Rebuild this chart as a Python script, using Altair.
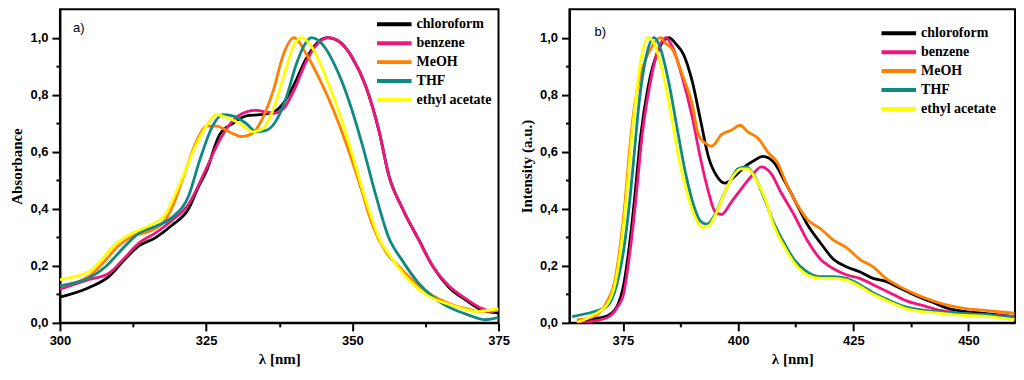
import altair as alt
import pandas as pd

solvents = ["chloroform", "benzene", "MeOH", "THF", "ethyl acetate"]
colors = ["#000000", "#F0157F", "#FF8000", "#0F8A82", "#FFFF00"]

# ---------- panel a) absorbance ----------
abs_chloroform_nm = [300.0, 305.0, 308.4, 310.7, 313.5, 316.3, 319.2, 322.0, 323.7, 325.0, 327.3, 329.6, 331.9, 334.2, 336.5, 338.2, 339.9, 342.2, 343.9, 345.8, 347.5, 350.0, 352.3, 354.6, 356.2, 358.6, 361.4, 363.7, 366.5, 369.4, 372.2, 375.0]
abs_chloroform_val = [0.09, 0.124, 0.163, 0.214, 0.27, 0.298, 0.343, 0.40, 0.478, 0.53, 0.66, 0.70, 0.726, 0.73, 0.74, 0.77, 0.83, 0.93, 0.98, 1.0, 0.99, 0.93, 0.83, 0.67, 0.52, 0.40, 0.29, 0.20, 0.125, 0.08, 0.045, 0.034]

abs_benzene_nm = [300.0, 305.0, 308.4, 310.7, 313.5, 316.3, 319.2, 322.0, 325.0, 327.3, 329.6, 331.9, 333.5, 336.5, 338.2, 339.9, 342.2, 343.9, 346.0, 347.5, 350.0, 352.3, 354.6, 356.2, 358.6, 361.4, 363.7, 366.5, 369.4, 372.2, 374.0, 375.0]
abs_benzene_val = [0.118, 0.152, 0.174, 0.22, 0.28, 0.315, 0.36, 0.416, 0.54, 0.64, 0.71, 0.74, 0.745, 0.735, 0.75, 0.81, 0.92, 0.975, 1.0, 0.99, 0.93, 0.83, 0.67, 0.52, 0.40, 0.29, 0.20, 0.13, 0.085, 0.05, 0.04, 0.05]

abs_meoh_nm = [300.0, 305.0, 307.8, 310.0, 312.4, 315.2, 318.0, 319.7, 320.9, 323.9, 325.0, 326.7, 329.5, 331.2, 332.9, 334.6, 336.5, 338.2, 340.0, 342.2, 344.5, 346.7, 349.0, 351.2, 353.5, 355.7, 358.0, 360.8, 363.7, 366.5, 369.4, 372.0, 375.0]
abs_meoh_val = [0.13, 0.164, 0.22, 0.27, 0.304, 0.32, 0.36, 0.43, 0.50, 0.66, 0.69, 0.69, 0.664, 0.653, 0.664, 0.715, 0.816, 0.94, 1.0, 0.94, 0.85, 0.75, 0.625, 0.49, 0.34, 0.25, 0.197, 0.14, 0.096, 0.068, 0.05, 0.04, 0.045]

abs_thf_nm = [300.0, 305.0, 307.8, 310.7, 313.5, 316.3, 319.2, 322.0, 323.9, 326.1, 327.8, 329.5, 331.8, 333.6, 335.3, 337.0, 338.7, 340.4, 341.8, 343.0, 345.0, 347.2, 349.4, 351.7, 353.9, 356.2, 358.5, 361.3, 364.2, 367.0, 369.8, 372.7, 375.0]
abs_thf_val = [0.13, 0.158, 0.197, 0.26, 0.315, 0.338, 0.37, 0.445, 0.57, 0.69, 0.73, 0.726, 0.70, 0.67, 0.675, 0.71, 0.79, 0.906, 0.974, 1.0, 0.974, 0.895, 0.78, 0.625, 0.456, 0.30, 0.22, 0.14, 0.084, 0.05, 0.028, 0.011, 0.019]

abs_ethyl_nm = [300.0, 305.0, 309.5, 312.4, 315.2, 318.0, 320.3, 323.3, 325.0, 326.7, 328.5, 330.7, 333.0, 334.6, 336.5, 338.2, 340.0, 341.3, 343.3, 345.5, 347.7, 350.0, 352.3, 354.5, 356.8, 359.6, 362.5, 365.3, 368.0, 371.0, 375.0]
abs_ethyl_val = [0.152, 0.18, 0.276, 0.315, 0.34, 0.38, 0.478, 0.625, 0.69, 0.73, 0.72, 0.70, 0.67, 0.68, 0.75, 0.86, 0.974, 1.0, 0.96, 0.86, 0.74, 0.59, 0.43, 0.30, 0.225, 0.152, 0.10, 0.073, 0.056, 0.04, 0.05]

# ---------- panel b) emission ----------
em_chloroform_nm = [365.0, 368.6, 372.0, 374.0, 375.0, 376.4, 377.5, 378.9, 380.5, 382.8, 385.0, 386.4, 388.2, 390.0, 391.8, 393.6, 395.4, 397.1, 399.3, 401.4, 403.6, 405.4, 407.9, 410.0, 412.1, 415.0, 417.9, 420.7, 423.6, 426.4, 429.3, 432.1, 435.0, 438.6, 442.1, 445.7, 449.3, 452.9, 456.4, 460.0]
em_chloroform_val = [0.0, 0.013, 0.028, 0.067, 0.12, 0.27, 0.43, 0.66, 0.83, 0.96, 1.0, 0.98, 0.94, 0.85, 0.715, 0.58, 0.514, 0.49, 0.514, 0.547, 0.57, 0.584, 0.56, 0.50, 0.436, 0.346, 0.28, 0.223, 0.196, 0.179, 0.156, 0.145, 0.123, 0.095, 0.073, 0.05, 0.039, 0.034, 0.028, 0.022]

em_benzene_nm = [365.0, 368.6, 372.0, 374.0, 375.1, 376.7, 377.8, 379.2, 380.8, 382.5, 384.3, 385.7, 387.9, 390.0, 391.8, 393.6, 395.0, 396.4, 398.6, 400.7, 402.9, 405.0, 407.1, 409.3, 412.1, 415.0, 417.9, 420.7, 423.6, 426.4, 429.3, 432.9, 436.4, 440.0, 443.6, 447.1, 450.7, 454.3, 460.0]
em_benzene_val = [0.0, 0.006, 0.022, 0.06, 0.098, 0.27, 0.43, 0.66, 0.83, 0.95, 1.0, 0.97, 0.86, 0.726, 0.58, 0.458, 0.39, 0.38, 0.425, 0.47, 0.514, 0.547, 0.525, 0.458, 0.38, 0.29, 0.223, 0.19, 0.168, 0.156, 0.134, 0.106, 0.078, 0.061, 0.045, 0.036, 0.031, 0.028, 0.022]

em_meoh_nm = [365.0, 368.6, 371.4, 373.4, 374.4, 375.5, 376.4, 377.6, 379.4, 381.0, 383.2, 384.3, 385.7, 387.9, 390.0, 391.4, 392.9, 394.3, 396.4, 398.6, 400.4, 402.1, 404.3, 406.4, 408.6, 410.7, 412.9, 415.0, 417.9, 420.7, 423.6, 426.4, 429.3, 432.1, 435.0, 438.6, 442.1, 445.7, 449.3, 452.9, 456.4, 460.0]
em_meoh_val = [0.01, 0.022, 0.07, 0.16, 0.27, 0.43, 0.6, 0.77, 0.9, 0.96, 1.0, 0.98, 0.96, 0.87, 0.77, 0.66, 0.63, 0.62, 0.66, 0.676, 0.693, 0.67, 0.648, 0.60, 0.56, 0.48, 0.413, 0.363, 0.33, 0.29, 0.263, 0.223, 0.196, 0.156, 0.128, 0.10, 0.078, 0.061, 0.05, 0.045, 0.039, 0.034]

em_thf_nm = [364.0, 368.6, 371.4, 373.6, 375.3, 376.5, 377.5, 378.5, 380.0, 381.8, 383.2, 385.0, 386.8, 388.6, 390.4, 391.8, 393.2, 395.0, 396.8, 398.6, 400.0, 401.8, 403.6, 405.7, 407.9, 410.0, 412.1, 415.0, 417.9, 420.7, 423.6, 426.4, 429.3, 432.9, 436.4, 440.0, 443.6, 447.1, 450.7, 454.3, 460.0]
em_thf_val = [0.022, 0.039, 0.056, 0.13, 0.27, 0.43, 0.6, 0.77, 0.93, 1.0, 0.96, 0.84, 0.68, 0.525, 0.41, 0.357, 0.346, 0.38, 0.447, 0.508, 0.54, 0.547, 0.514, 0.436, 0.346, 0.28, 0.223, 0.179, 0.162, 0.162, 0.156, 0.134, 0.106, 0.078, 0.056, 0.045, 0.039, 0.034, 0.031, 0.028, 0.017]

em_ethyl_nm = [365.0, 368.6, 371.6, 373.6, 374.6, 375.7, 376.6, 377.7, 378.9, 380.4, 381.8, 383.6, 385.4, 387.1, 388.9, 390.7, 392.1, 393.6, 395.4, 397.1, 398.9, 400.7, 402.1, 403.9, 406.1, 407.9, 410.0, 412.1, 415.0, 417.9, 420.7, 423.6, 426.4, 429.3, 432.9, 436.4, 440.0, 443.6, 447.1, 450.7, 454.3, 460.0]
em_ethyl_val = [0.0, 0.028, 0.065, 0.16, 0.27, 0.43, 0.6, 0.77, 0.92, 1.0, 0.98, 0.88, 0.737, 0.58, 0.458, 0.37, 0.335, 0.34, 0.39, 0.458, 0.514, 0.54, 0.54, 0.503, 0.425, 0.335, 0.268, 0.212, 0.168, 0.156, 0.156, 0.15, 0.128, 0.10, 0.073, 0.05, 0.039, 0.034, 0.028, 0.025, 0.022, 0.011]

y_ticks = [round(k / 10, 1) for k in range(0, 11)]
xa_ticks = [300 + 12.5 * k for k in range(0, 7)]
xb_ticks = [375 + 12.5 * k for k in range(0, 7)]


def long_df(pairs):
    rows = []
    for order, (name, xs, ys) in enumerate(pairs):
        for x, y in zip(xs, ys):
            rows.append({"solvent": name, "order": order, "nm": x, "val": y})
    return pd.DataFrame(rows)


df_a = long_df([
    ("chloroform", abs_chloroform_nm, abs_chloroform_val),
    ("benzene", abs_benzene_nm, abs_benzene_val),
    ("MeOH", abs_meoh_nm, abs_meoh_val),
    ("THF", abs_thf_nm, abs_thf_val),
    ("ethyl acetate", abs_ethyl_nm, abs_ethyl_val),
])
df_b = long_df([
    ("chloroform", em_chloroform_nm, em_chloroform_val),
    ("benzene", em_benzene_nm, em_benzene_val),
    ("MeOH", em_meoh_nm, em_meoh_val),
    ("THF", em_thf_nm, em_thf_val),
    ("ethyl acetate", em_ethyl_nm, em_ethyl_val),
])

Y_MAJOR = "round(datum.value * 10) % 2 == 0"
X_MAJOR = "datum.value % 25 == 0"
TICK_FONT = "Liberation Sans"
TITLE_FONT = "Liberation Serif"


def y_axis(title):
    return alt.Axis(
        title=title, values=y_ticks,
        labelExpr=f"{Y_MAJOR} ? replace(format(datum.value, '.1f'), '.', ',') : ''",
        tickSize={"condition": {"test": Y_MAJOR, "value": 8}, "value": 4},
        labelOverlap=False, labelFont=TICK_FONT, labelFontWeight="bold",
        labelFontSize=13, labelColor="black", labelPadding=4,
        titleFont=TITLE_FONT, titleFontWeight="bold", titleFontSize=15,
        titleColor="black", titlePadding=5,
        domainColor="black", domainWidth=2, tickColor="black", tickWidth=2,
        grid=False,
    )


def x_axis(values):
    return alt.Axis(
        title="λ [nm]", values=values,
        labelExpr=f"{X_MAJOR} ? format(datum.value, 'd') : ''",
        tickSize={"condition": {"test": X_MAJOR, "value": 8}, "value": 4},
        labelOverlap=False, labelFlush=False, labelFont=TICK_FONT,
        labelFontWeight="bold", labelFontSize=13, labelColor="black",
        labelPadding=4,
        titleFont=TITLE_FONT, titleFontWeight="bold", titleFontSize=15,
        titleColor="black", titlePadding=4,
        domainColor="black", domainWidth=2, tickColor="black", tickWidth=2,
        grid=False,
    )


def panel(df, xdom, xticks, ytitle, label, legx, legy, lab_x, lab_y, w, h):
    legend = alt.Legend(
        orient="none", legendX=legx, legendY=legy, title=None,
        symbolType="M-1,0H3", symbolSize=300, symbolStrokeWidth=4,
        labelFont=TITLE_FONT, labelFontWeight="bold", labelFontSize=14,
        labelColor="black", labelOffset=20, rowPadding=0,
    )
    lines = alt.Chart(df).mark_line(strokeWidth=2.8, clip=True, interpolate="monotone").encode(
        x=alt.X("nm:Q", scale=alt.Scale(domain=xdom, nice=False, zero=False), axis=x_axis(xticks)),
        y=alt.Y("val:Q", scale=alt.Scale(domain=[0, 1.1], nice=False), axis=y_axis(ytitle)),
        color=alt.Color("solvent:N", scale=alt.Scale(domain=solvents, range=colors), legend=legend),
        order=alt.Order("order:Q"),
    )
    txt = alt.Chart(pd.DataFrame({"lab": [label]})).mark_text(
        font=TICK_FONT, fontSize=13, align="left", baseline="middle", color="black"
    ).encode(text="lab:N", x=alt.value(lab_x), y=alt.value(lab_y))
    return alt.layer(lines, txt).properties(width=w, height=h)


left = panel(df_a, [300, 375], xa_ticks, "Absorbance", "a)", 315, 4, 13, 19, 439, 314)
right = panel(df_b, [363.4, 460.1], xb_ticks, "Intensity (a.u.)", "b)", 310, 13, 25, 23, 446, 314)

chart = alt.hconcat(left, right, spacing=71, bounds="flush").resolve_scale(
    color="independent"
).properties(padding=0).configure_view(stroke="black", strokeWidth=2)

chart.save("out.html", embed_options={"renderer": "svg", "actions": False})
